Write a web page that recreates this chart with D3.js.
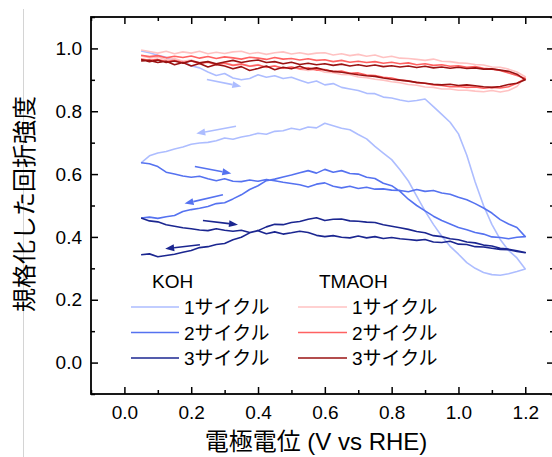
<!DOCTYPE html>
<html>
<head>
<meta charset="utf-8">
<script src="https://cdn.jsdelivr.net/npm/d3@7"></script>
<style>
  html, body { margin: 0; padding: 0; background: #fff; }
  svg { display: block; }
  text { font-family: "Liberation Sans", Arial, "Noto Sans CJK JP", sans-serif; }
  .cjk { font-family: "Liberation Sans", "Noto Sans CJK JP", sans-serif; }
</style>
</head>
<body>
<svg id="chart" width="552" height="457"></svg>
<script>
// potential grid (V vs RHE), shared by every scan
const potential = [0.05,0.075,0.1,0.125,0.15,0.175,0.2,0.225,0.25,0.275,0.3,0.325,0.35,0.375,0.4,0.425,0.45,0.475,0.5,0.525,0.55,0.575,0.6,0.625,0.65,0.675,0.7,0.725,0.75,0.775,0.8,0.825,0.85,0.875,0.9,0.925,0.95,0.975,1.0,1.025,1.05,1.075,1.1,1.125,1.15,1.175,1.2];

// KOH: anodic (fwd) and cathodic (rev) scans, both listed by increasing potential
const koh1Fwd = [0.992,0.986,0.978,0.972,0.96,0.958,0.945,0.938,0.925,0.914,0.92,0.906,0.9,0.904,0.916,0.908,0.913,0.904,0.908,0.899,0.89,0.896,0.884,0.888,0.876,0.871,0.866,0.857,0.856,0.845,0.842,0.836,0.831,0.834,0.839,0.815,0.79,0.765,0.728,0.66,0.575,0.5,0.44,0.392,0.357,0.333,0.298];
const koh1Rev = [0.636,0.658,0.667,0.672,0.68,0.686,0.695,0.699,0.701,0.706,0.715,0.711,0.718,0.723,0.73,0.727,0.736,0.738,0.746,0.741,0.75,0.747,0.762,0.754,0.746,0.741,0.726,0.712,0.688,0.667,0.646,0.614,0.578,0.53,0.482,0.44,0.402,0.37,0.345,0.318,0.3,0.287,0.28,0.278,0.283,0.29,0.298];
const koh2Fwd = [0.636,0.633,0.624,0.606,0.6,0.594,0.59,0.593,0.585,0.579,0.585,0.577,0.576,0.581,0.577,0.583,0.579,0.574,0.57,0.566,0.559,0.568,0.572,0.561,0.556,0.561,0.554,0.558,0.552,0.553,0.549,0.548,0.544,0.551,0.545,0.548,0.54,0.536,0.526,0.518,0.506,0.492,0.476,0.455,0.441,0.43,0.401];
const koh2Rev = [0.46,0.463,0.459,0.464,0.468,0.481,0.487,0.491,0.497,0.506,0.509,0.521,0.534,0.551,0.563,0.579,0.584,0.591,0.597,0.604,0.611,0.603,0.615,0.606,0.611,0.602,0.6,0.59,0.586,0.571,0.563,0.545,0.52,0.5,0.483,0.466,0.452,0.441,0.43,0.423,0.414,0.409,0.4,0.398,0.394,0.399,0.401];
const koh3Fwd = [0.46,0.451,0.448,0.439,0.434,0.429,0.426,0.422,0.42,0.426,0.421,0.418,0.421,0.414,0.42,0.41,0.416,0.409,0.413,0.418,0.414,0.405,0.401,0.404,0.399,0.397,0.403,0.397,0.401,0.395,0.398,0.394,0.392,0.389,0.392,0.384,0.382,0.386,0.377,0.376,0.369,0.368,0.364,0.36,0.359,0.354,0.35];
const koh3Rev = [0.343,0.346,0.337,0.341,0.345,0.351,0.357,0.366,0.369,0.376,0.379,0.391,0.399,0.413,0.42,0.432,0.44,0.439,0.446,0.449,0.456,0.461,0.452,0.456,0.457,0.451,0.45,0.447,0.446,0.439,0.434,0.429,0.424,0.417,0.413,0.404,0.401,0.394,0.391,0.384,0.381,0.374,0.371,0.364,0.361,0.356,0.35];

// TMAOH
const tma1Fwd = [0.995,0.99,0.985,0.991,0.983,0.989,0.985,0.991,0.983,0.988,0.984,0.989,0.991,0.983,0.987,0.981,0.986,0.989,0.982,0.986,0.981,0.985,0.986,0.979,0.983,0.977,0.981,0.975,0.979,0.971,0.975,0.969,0.968,0.965,0.962,0.966,0.959,0.958,0.954,0.953,0.949,0.947,0.941,0.94,0.934,0.925,0.91];
const tma1Rev = [0.976,0.97,0.973,0.964,0.968,0.959,0.963,0.954,0.958,0.949,0.956,0.947,0.951,0.944,0.949,0.939,0.945,0.937,0.941,0.934,0.93,0.933,0.924,0.923,0.917,0.916,0.909,0.907,0.902,0.899,0.894,0.891,0.885,0.883,0.877,0.876,0.871,0.871,0.867,0.867,0.864,0.862,0.866,0.861,0.866,0.879,0.91];
const tma2Fwd = [0.978,0.974,0.977,0.97,0.975,0.971,0.976,0.969,0.974,0.968,0.973,0.97,0.966,0.972,0.969,0.965,0.971,0.966,0.968,0.963,0.967,0.962,0.964,0.958,0.962,0.956,0.959,0.955,0.958,0.953,0.956,0.951,0.954,0.948,0.951,0.946,0.948,0.943,0.945,0.94,0.942,0.937,0.934,0.93,0.922,0.914,0.904];
const tma2Rev = [0.966,0.962,0.965,0.958,0.962,0.955,0.96,0.952,0.956,0.948,0.953,0.946,0.95,0.943,0.947,0.94,0.944,0.937,0.941,0.935,0.938,0.931,0.933,0.926,0.928,0.921,0.922,0.915,0.914,0.908,0.906,0.899,0.897,0.891,0.889,0.884,0.882,0.878,0.879,0.876,0.877,0.873,0.876,0.874,0.878,0.889,0.904];
const tma3Fwd = [0.965,0.958,0.963,0.955,0.96,0.953,0.961,0.954,0.958,0.951,0.957,0.962,0.955,0.96,0.963,0.955,0.958,0.951,0.956,0.949,0.953,0.948,0.951,0.946,0.95,0.944,0.948,0.943,0.947,0.942,0.945,0.941,0.944,0.939,0.943,0.938,0.941,0.937,0.94,0.936,0.938,0.934,0.935,0.931,0.927,0.918,0.9];
const tma3Rev = [0.96,0.962,0.955,0.959,0.948,0.955,0.944,0.952,0.941,0.949,0.944,0.935,0.942,0.93,0.936,0.944,0.932,0.94,0.935,0.943,0.934,0.938,0.931,0.927,0.924,0.92,0.916,0.913,0.911,0.906,0.902,0.899,0.896,0.892,0.889,0.886,0.884,0.886,0.882,0.884,0.881,0.878,0.876,0.879,0.885,0.889,0.9];

const cycleLabels = ['1サイクル', '2サイクル', '3サイクル'];
const kohColors = ['#adbdff', '#5572f0', '#1b2690'];
const tmaColors = ['#ffc2c2', '#ff6262', '#9a1212'];

// scan direction arrows [from, to] in data units (V, intensity)
const kohArrows = [
  [[[0.247, 0.901], [0.35, 0.879]], [[0.334, 0.752], [0.215, 0.729]]],
  [[[0.211, 0.624], [0.32, 0.602]], [[0.295, 0.534], [0.18, 0.506]]],
  [[[0.235, 0.452], [0.34, 0.439]], [[0.226, 0.375], [0.122, 0.362]]]
];

const xTicks = [0.0, 0.2, 0.4, 0.6, 0.8, 1.0, 1.2];
const xMinor = [-0.1, 0.1, 0.3, 0.5, 0.7, 0.9, 1.1];
const yTicks = [0.0, 0.2, 0.4, 0.6, 0.8, 1.0];
const yMinor = [-0.1, 0.1, 0.3, 0.5, 0.7, 0.9, 1.1];

const plotLeft = 91, plotRight = 554, plotTop = 17, plotBottom = 394;

const svg = d3.select('#chart');

const x = d3.scaleLinear().domain([-0.1, 1.286]).range([plotLeft, plotRight]);
const y = d3.scaleLinear().domain([-0.1, 1.1]).range([plotBottom, plotTop]);

// stray page border at left
svg.append('line')
  .attr('x1', 23.5).attr('x2', 23.5).attr('y1', 9).attr('y2', 457)
  .attr('stroke', '#d4d4d4').attr('stroke-width', 1);

const line = d3.line().x(d => x(d[0])).y(d => y(d[1]));

function loop(fwd, rev) {
  let pts = potential.map((p, i) => [p, fwd[i]]);
  let back = potential.map((p, i) => [p, rev[i]]).reverse();
  return pts.concat(back);
}

const kohScans = [[koh1Fwd, koh1Rev], [koh2Fwd, koh2Rev], [koh3Fwd, koh3Rev]];
const tmaScans = [[tma1Fwd, tma1Rev], [tma2Fwd, tma2Rev], [tma3Fwd, tma3Rev]];

const plot = svg.append('g');

kohScans.forEach((s, i) => {
  plot.append('path')
    .attr('d', line(loop(s[0], s[1])))
    .attr('fill', 'none')
    .attr('stroke', kohColors[i])
    .attr('stroke-width', 1.6)
    .attr('stroke-linejoin', 'round');
});
tmaScans.forEach((s, i) => {
  plot.append('path')
    .attr('d', line(loop(s[0], s[1])))
    .attr('fill', 'none')
    .attr('stroke', tmaColors[i])
    .attr('stroke-width', 1.6)
    .attr('stroke-linejoin', 'round');
});

// arrows
function arrow(from, to, color) {
  let x0 = x(from[0]), y0 = y(from[1]), x1 = x(to[0]), y1 = y(to[1]);
  let ang = Math.atan2(y1 - y0, x1 - x0);
  let hl = 9, hw = 3.5;
  let bx = x1 - hl * Math.cos(ang), by = y1 - hl * Math.sin(ang);
  plot.append('line')
    .attr('x1', x0).attr('y1', y0).attr('x2', bx).attr('y2', by)
    .attr('stroke', color).attr('stroke-width', 1.6);
  let px = -Math.sin(ang) * hw, py = Math.cos(ang) * hw;
  plot.append('path')
    .attr('d', `M${x1},${y1}L${bx + px},${by + py}L${bx - px},${by - py}Z`)
    .attr('fill', color);
}
kohArrows.forEach((pair, i) => {
  pair.forEach(a => arrow(a[0], a[1], kohColors[i]));
});

// axes: ticks point inward on all four sides
const fmt = d3.format('.1f');
function styleAxis(g) {
  g.select('.domain').remove();
  g.selectAll('.tick line').attr('stroke', '#000').attr('stroke-width', 1.5);
  g.selectAll('.tick text').attr('fill', '#000').style('font-size', '19px')
    .style('font-family', '"Liberation Sans", Arial, sans-serif');
}

svg.append('g').attr('transform', `translate(0,${plotBottom})`)
  .call(d3.axisBottom(x).tickValues(xTicks).tickFormat(fmt).tickSizeInner(-7).tickSizeOuter(0).tickPadding(12))
  .call(styleAxis);
svg.append('g').attr('transform', `translate(0,${plotBottom})`)
  .call(d3.axisBottom(x).tickValues(xMinor).tickFormat('').tickSizeInner(-4).tickSizeOuter(0))
  .call(styleAxis);
svg.append('g').attr('transform', `translate(0,${plotTop})`)
  .call(d3.axisTop(x).tickValues(xTicks).tickFormat('').tickSizeInner(-7).tickSizeOuter(0))
  .call(styleAxis);
svg.append('g').attr('transform', `translate(0,${plotTop})`)
  .call(d3.axisTop(x).tickValues(xMinor).tickFormat('').tickSizeInner(-4).tickSizeOuter(0))
  .call(styleAxis);

svg.append('g').attr('transform', `translate(${plotLeft},0)`)
  .call(d3.axisLeft(y).tickValues(yTicks).tickFormat(fmt).tickSizeInner(-7).tickSizeOuter(0).tickPadding(9))
  .call(styleAxis);
svg.append('g').attr('transform', `translate(${plotLeft},0)`)
  .call(d3.axisLeft(y).tickValues(yMinor).tickFormat('').tickSizeInner(-4).tickSizeOuter(0))
  .call(styleAxis);
svg.append('g').attr('transform', `translate(${plotRight},0)`)
  .call(d3.axisRight(y).tickValues(yTicks).tickFormat('').tickSizeInner(-7).tickSizeOuter(0))
  .call(styleAxis);
svg.append('g').attr('transform', `translate(${plotRight},0)`)
  .call(d3.axisRight(y).tickValues(yMinor).tickFormat('').tickSizeInner(-4).tickSizeOuter(0))
  .call(styleAxis);

// frame
svg.append('rect')
  .attr('x', plotLeft).attr('y', plotTop)
  .attr('width', plotRight - plotLeft).attr('height', plotBottom - plotTop)
  .attr('fill', 'none').attr('stroke', '#000').attr('stroke-width', 1.8);

// axis titles
svg.append('text')
  .attr('class', 'cjk')
  .attr('transform', 'translate(33,204) rotate(-90)')
  .attr('text-anchor', 'middle')
  .style('font-size', '24px')
  .text('規格化した回折強度');

svg.append('text')
  .attr('class', 'cjk')
  .attr('x', 316).attr('y', 450)
  .attr('text-anchor', 'middle')
  .style('font-size', '24px')
  .text('電極電位 (V vs RHE)');

// legends
function legend(title, colors, tx, lx0, lx1, textX) {
  let g = svg.append('g').attr('class', 'cjk').style('font-size', '19px');
  g.append('text').attr('x', tx).attr('y', 288).text(title);
  cycleLabels.forEach((lab, i) => {
    let ly = 307 + i * 25.5;
    g.append('line')
      .attr('x1', lx0).attr('x2', lx1).attr('y1', ly).attr('y2', ly)
      .attr('stroke', colors[i]).attr('stroke-width', 1.6);
    g.append('text').attr('x', textX).attr('y', ly + 7).text(lab);
  });
}
legend('KOH', kohColors, 152, 131, 179, 184);
legend('TMAOH', tmaColors, 319, 298, 347, 352);
</script>
</body>
</html>
